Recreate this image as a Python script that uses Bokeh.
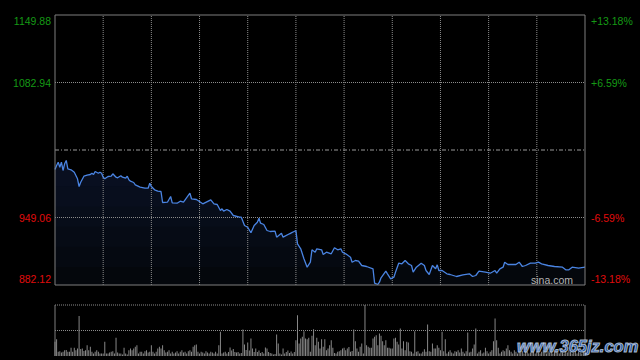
import numpy as np
from bokeh.plotting import figure
from bokeh.models import Range1d, Label
from bokeh.embed import file_html
from bokeh.resources import INLINE

# ---- data ----
SESSION_MINUTES = 330
PREV_CLOSE = 1016.00
PRICE_TICKS = [1149.88, 1082.94, 949.06, 882.12]
PCT_LABELS = ["+13.18%", "+6.59%", "-6.59%", "-13.18%"]
TIME_GRID = [30, 60, 90, 120, 150, 180, 210, 240, 270, 300]

minute = [0, 1, 2, 3, 4, 5, 6, 7, 8, 10, 12, 14, 15, 16, 18, 20, 22, 23, 24, 25,
          27, 28, 29, 30, 31, 33, 35, 36, 38, 39, 41, 42, 44, 45, 46, 47, 49, 50, 53, 56,
          58, 59, 60, 62, 64, 66, 67, 70, 72, 73, 76, 78, 80, 84, 85, 88, 89, 92, 97, 99,
          101, 103, 104, 105, 107, 109, 111, 115, 116, 118, 120, 122, 124, 126, 127, 128, 130, 132, 134, 137,
          138, 141, 142, 146, 148, 150, 151, 153, 155, 157, 159, 160, 162, 163, 166, 167, 169, 172, 174, 176,
          178, 179, 181, 184, 185, 187, 189, 191, 194, 198, 199, 201, 202, 203, 206, 207, 209, 211, 212, 214,
          216, 218, 220, 222, 223, 225, 228, 230, 231, 233, 235, 237, 238, 239, 241, 244, 246, 250, 254, 258,
          260, 262, 264, 268, 271, 274, 275, 277, 279, 280, 282, 287, 289, 291, 293, 296, 299, 301, 303, 307,
          311, 316, 318, 320, 322, 326, 330]
price = [996.66, 1000.63, 1003.90, 998.94, 1003.90, 995.67, 1002.32, 1005.59, 997.36, 996.37,
         993.98, 987.44, 979.80, 984.07, 990.02, 991.01, 991.70, 992.99, 991.70, 994.68,
         992.99, 993.98, 992.99, 989.02, 987.44, 989.72, 990.02, 992.40, 989.02, 988.43,
         990.41, 989.02, 988.03, 990.02, 986.45, 985.06, 983.77, 981.49, 979.11, 978.12,
         978.12, 983.08, 979.80, 976.53, 975.14, 974.85, 963.94, 964.23, 969.88, 963.64,
         963.24, 965.23, 964.23, 973.16, 967.61, 966.91, 965.92, 962.65, 966.61, 962.65,
         961.95, 956.00, 957.69, 955.31, 956.99, 955.31, 951.04, 949.36, 949.36, 941.13,
         939.44, 933.89, 941.13, 944.40, 948.37, 943.41, 942.12, 936.17, 935.18, 935.47,
         929.53, 933.49, 929.53, 932.90, 934.48, 936.17, 922.98, 918.02, 908.10, 899.77,
         904.73, 917.03, 914.65, 918.02, 917.03, 912.37, 914.65, 913.06, 919.01, 917.03,
         918.02, 914.65, 913.06, 909.69, 904.73, 906.42, 905.72, 901.46, 900.47, 898.19,
         883.91, 882.62, 884.89, 889.26, 895.81, 893.23, 888.27, 889.86, 894.82, 903.74,
         903.14, 906.42, 903.14, 901.46, 894.82, 899.77, 903.74, 901.46, 896.50, 892.53,
         901.46, 898.19, 902.15, 896.50, 896.50, 893.23, 892.53, 890.55, 892.24, 893.23,
         890.55, 891.54, 895.81, 894.82, 893.82, 896.50, 893.82, 898.19, 899.77, 904.73,
         902.45, 902.45, 904.73, 900.47, 901.46, 903.74, 903.74, 904.73, 903.14, 901.46,
         900.47, 899.77, 897.19, 897.19, 899.77, 898.78, 899.77]

volume = [142, 168, 42, 48, 35, 42, 58, 60, 42, 42,
          82, 42, 82, 58, 75, 400, 70, 75, 50, 58,
          108, 58, 92, 42, 25, 42, 58, 42, 25, 25,
          25, 142, 25, 25, 35, 42, 48, 25, 182, 35,
          25, 25, 15, 82, 25, 15, 58, 75, 58, 75,
          92, 108, 25, 42, 42, 25, 48, 58, 35, 42,
          108, 42, 25, 42, 75, 92, 75, 108, 58, 35,
          42, 58, 25, 42, 25, 35, 48, 25, 42, 58,
          35, 42, 25, 48, 58, 42, 92, 108, 115, 42,
          25, 42, 35, 25, 48, 35, 25, 42, 35, 25,
          42, 25, 108, 242, 25, 35, 42, 25, 40, 85,
          55, 70, 40, 35, 40, 25, 30, 265, 115, 60,
          135, 55, 175, 75, 40, 75, 40, 55, 30, 40,
          25, 85, 75, 40, 30, 25, 15, 20, 215, 125,
          25, 15, 75, 25, 40, 55, 30, 45, 25, 40,
          158, 408, 125, 175, 192, 248, 175, 168, 182, 42,
          202, 268, 108, 182, 142, 75, 168, 92, 168, 58,
          75, 108, 158, 82, 30, 25, 42, 48, 58, 75,
          82, 58, 75, 90, 42, 50, 265, 148, 75, 42,
          92, 125, 25, 510, 108, 92, 82, 82, 175, 192,
          208, 108, 225, 202, 148, 108, 158, 82, 82, 75,
          75, 175, 182, 142, 115, 275, 75, 148, 58, 142,
          135, 48, 42, 25, 248, 42, 48, 25, 25, 42,
          68, 42, 315, 48, 42, 125, 75, 75, 108, 82,
          58, 242, 48, 168, 25, 42, 58, 35, 25, 48,
          42, 58, 35, 75, 42, 25, 48, 235, 35, 42,
          75, 115, 275, 25, 42, 58, 25, 35, 82, 48,
          25, 42, 58, 148, 375, 158, 82, 25, 42, 58,
          48, 75, 108, 58, 42, 25, 58, 42, 25, 42,
          35, 48, 25, 58, 42, 25, 35, 58, 42, 25,
          48, 35, 25, 42, 58, 35, 25, 48, 35, 42,
          25, 58, 42, 35, 25, 48, 35, 25, 42, 35,
          58, 42, 25, 35, 48, 25, 42, 35, 25, 42, 58]
vol_minute = list(range(len(volume)))

# ---- layout (pixels of the 640x360 canvas) ----
W, H = 640, 360
PLOT_LEFT, PLOT_RIGHT = 54.5, 584.5
PRICE_TOP, PRICE_BOTTOM = 14.5, 284.5
VOL_TOP, VOL_BASE = 304.5, 355.5

FONT = "Liberation Sans"
GREEN = "#159a15"
RED = "#e00c0c"
BORDER = "#7f7f7f"
GRID = "#8c8c8c"

p_hi, p_lo = max(PRICE_TICKS), min(PRICE_TICKS)
mpp = SESSION_MINUTES / (PLOT_RIGHT - PLOT_LEFT)
upp = (p_hi - p_lo) / (PRICE_BOTTOM - PRICE_TOP)
VOL_MAX = max(volume)
vpp = VOL_MAX / (VOL_BASE - VOL_TOP)

x_range = Range1d(-PLOT_LEFT * mpp, SESSION_MINUTES + (W - PLOT_RIGHT) * mpp)
y_range = Range1d(p_lo - (H - PRICE_BOTTOM) * upp, p_hi + PRICE_TOP * upp)

p = figure(width=W, height=H, x_range=x_range, y_range=y_range,
           x_axis_type=None, y_axis_type=None,
           output_backend="svg", toolbar_location=None,
           min_border=0, min_border_left=0, min_border_right=0,
           min_border_top=0, min_border_bottom=0,
           background_fill_color="black", border_fill_color="black",
           outline_line_color=None)
p.extra_y_ranges = {"vol": Range1d(-(H - VOL_BASE) * vpp, VOL_MAX + VOL_TOP * vpp)}

# price panel: area, grid, line
pr = np.array(price)
p.varea(x=minute, y1=p_lo, y2=pr, fill_color="#04070c")
for lvl in [900, 920, 940, 960, 980]:
    p.varea(x=minute, y1=lvl, y2=np.maximum(pr, lvl), fill_color="#1a2a48", fill_alpha=0.08)

p.segment(x0=TIME_GRID, y0=[p_lo] * len(TIME_GRID), x1=TIME_GRID, y1=[p_hi] * len(TIME_GRID),
          line_color=GRID, line_dash="1 1", line_width=1)
inner = [t for t in PRICE_TICKS if t not in (p_hi, p_lo)]
p.segment(x0=[0] * len(inner), y0=inner, x1=[SESSION_MINUTES] * len(inner), y1=inner,
          line_color=GRID, line_dash="1 1", line_width=1)
p.segment(x0=[0], y0=[PREV_CLOSE], x1=[SESSION_MINUTES], y1=[PREV_CLOSE],
          line_color="#9a9a9a", line_dash="4 2 1 2", line_width=1)

p.line(minute, price, line_color="#4a84e2", line_width=1.3)

p.quad(left=[0], right=[SESSION_MINUTES], bottom=[p_lo], top=[p_hi],
       fill_color=None, line_color=BORDER, line_width=1)

for tick, pct in zip(PRICE_TICKS, PCT_LABELS):
    col = GREEN if tick > PREV_CLOSE else RED
    off = 0
    if tick == p_hi:
        off = -5.5
    elif tick == p_lo:
        off = 6
    p.add_layout(Label(x=0, y=tick, x_offset=-4, y_offset=off,
                       text=f"{tick:.2f}", text_align="right", text_baseline="middle",
                       text_font=FONT, text_font_size="10.5px", text_color=col))
    p.add_layout(Label(x=SESSION_MINUTES, y=tick, x_offset=6, y_offset=off,
                       text=pct, text_align="left", text_baseline="middle",
                       text_font=FONT, text_font_size="10.5px", text_color=col))

p.add_layout(Label(x=SESSION_MINUTES, y=p_lo, x_offset=-12, y_offset=5,
                   text="sina.com", text_align="right", text_baseline="middle",
                   text_font=FONT, text_font_size="10.5px", text_color="#b4b4b4"))

# volume panel
p.vbar(x=vol_minute, top=volume, bottom=0, width=0.6, fill_color="#8c8c8c",
       line_color=None, y_range_name="vol")
p.segment(x0=[0, 0], y0=[VOL_MAX, VOL_MAX / 2], x1=[SESSION_MINUTES, SESSION_MINUTES],
          y1=[VOL_MAX, VOL_MAX / 2], line_color=GRID, line_dash="1 1", y_range_name="vol")
p.segment(x0=[0, SESSION_MINUTES], y0=[VOL_MAX, VOL_MAX], x1=[0, SESSION_MINUTES], y1=[0, 0],
          line_color=BORDER, line_width=1, y_range_name="vol")

p.add_layout(Label(x=SESSION_MINUTES, y=0, x_offset=-68, y_offset=10.5, y_range_name="vol",
                   text="www.365jz.com", text_align="left", text_baseline="middle",
                   text_font=FONT, text_font_size="16.5px", text_font_style="bold italic",
                   text_color="#1f4f9e", text_outline_color="rgba(215,225,240,0.75)"))

html = file_html(p, INLINE)
html = html.replace("</head>", "<style>html,body{background:#000;}</style></head>", 1)
open("out.html", "w").write(html)
